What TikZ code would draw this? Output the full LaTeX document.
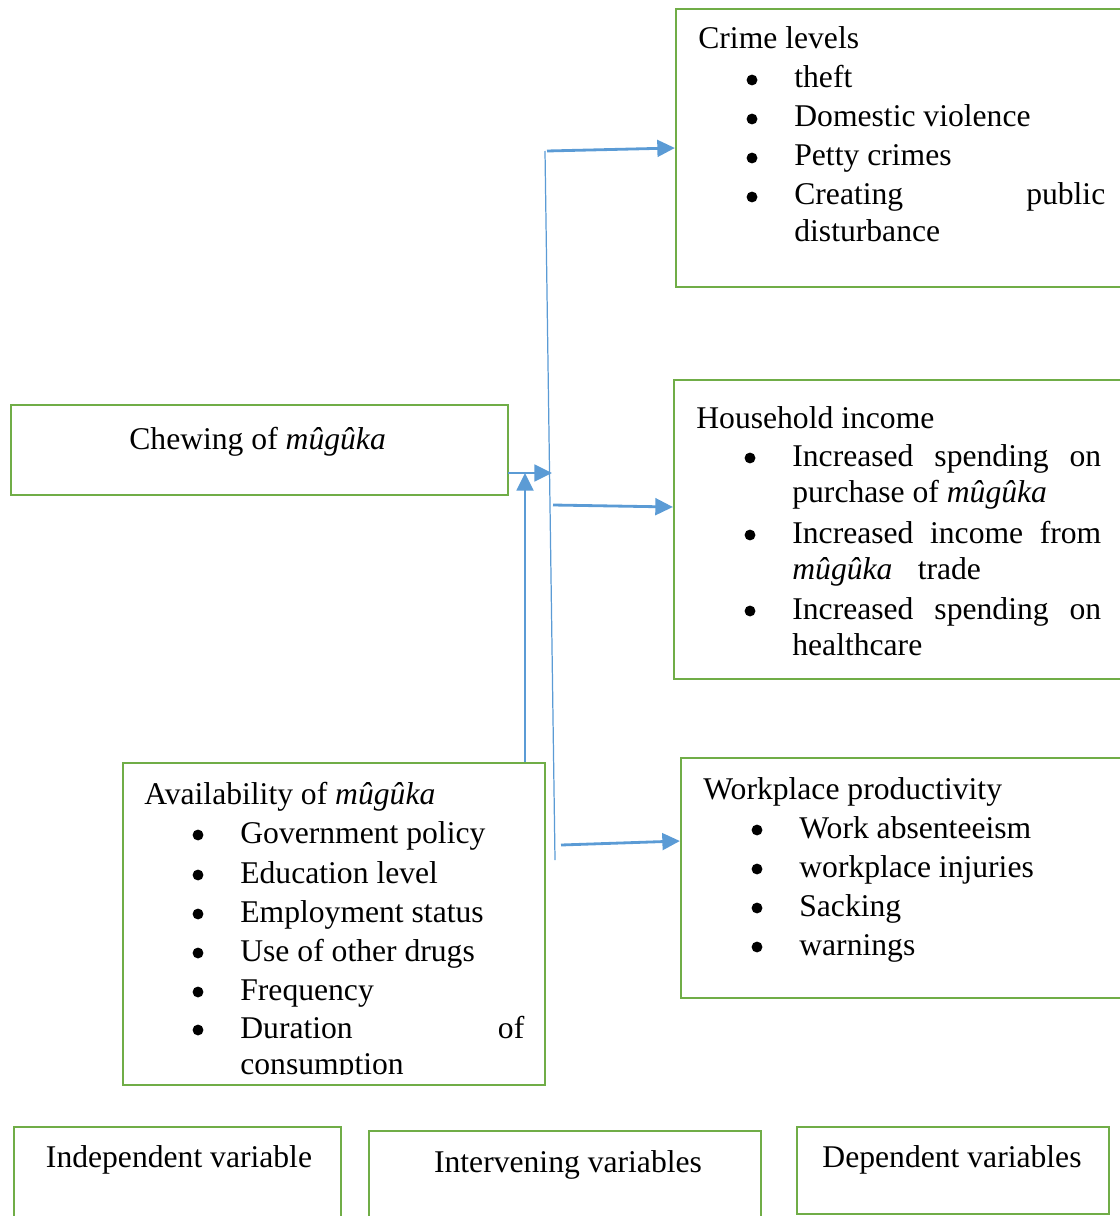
\documentclass[tikz,border=0pt]{standalone}
\usepackage{fontspec}
\setmainfont{Liberation Serif}
\usetikzlibrary{arrows.meta}
\definecolor{boxgreen}{RGB}{112,173,71}
\definecolor{arrowblue}{RGB}{91,155,213}
\hyphenpenalty=10000
\exhyphenpenalty=10000
\tolerance=9999

\begin{document}
\begin{tikzpicture}[x=0.02cm, y=-0.02cm,
  every node/.style={font=\fontsize{18}{21}\selectfont, inner sep=0pt},
  box/.style={draw=boxgreen, line width=1.3pt},
  txt/.style={anchor=base west},
  lbl/.style={anchor=base},
  dot/.style={circle, fill=black, minimum size=6.2pt, yshift=0.16cm},
  item/.style={anchor=base west, text width=#1, align=justify},
  arr/.style={draw=arrowblue, line width=1.6pt, -{Triangle[length=10pt,width=9.5pt]}},
  thin/.style={draw=arrowblue, line width=0.7pt}]

\useasboundingbox (0,0) rectangle (1119,1216);

\node[box, minimum width=9.28cm, minimum height=5.56cm] (crime) at (908,148) {};
\node[box, minimum width=9.32cm, minimum height=5.98cm] (house) at (907,529.5) {};
\node[box, minimum width=9.18cm, minimum height=4.8cm] (work) at (910.5,878) {};
\node[box, minimum width=9.94cm, minimum height=1.8cm] (chew) at (259.5,450) {};
\node[box, minimum width=8.44cm, minimum height=6.44cm] (avail) at (334,924) {};
\node[box, minimum width=6.54cm, minimum height=2.26cm] (indep) at (177.5,1183.5) {};
\node[box, minimum width=7.84cm, minimum height=2.18cm] (interv) at (565,1185.5) {};
\node[box, minimum width=6.24cm, minimum height=1.74cm] (dep) at (953,1170.5) {};

% crime levels
\node[txt] (crimeT) at (698,49) {Crime levels};
\node[dot] (crb1) at (752,88) {};
\node[dot] (crb2) at (752,127) {};
\node[dot] (crb3) at (752,166) {};
\node[dot] (crb4) at (752,205) {};
\node[item=6.22cm] (cr1) at (794,88) {theft};
\node[item=6.22cm] (cr2) at (794,127) {Domestic violence};
\node[item=6.22cm] (cr3) at (794,166) {Petty crimes};
\node[item=6.22cm] (cr4) at (794,205) {Creating public disturbance};

% household income
\node[txt] (houseT) at (696,428) {Household income};
\node[dot] (hob1) at (750,466) {};
\node[dot] (hob2) at (750,543) {};
\node[dot] (hob3) at (750,619) {};
\node[item=6.18cm] (ho1) at (792,466) {Increased spending on purchase of \textit{mûgûka}};
\node[item=6.18cm] (ho2) at (792,543) {Increased income from \textit{mûgûka}\hspace{0.8em}trade};
\node[item=6.18cm] (ho3) at (792,619) {Increased spending on healthcare};

% workplace productivity
\node[txt] (workT) at (703,799) {Workplace productivity};
\node[dot] (wob1) at (757,838) {};
\node[dot] (wob2) at (757,877) {};
\node[dot] (wob3) at (757,916) {};
\node[dot] (wob4) at (757,955) {};
\node[txt] (wo1) at (799,838) {Work absenteeism};
\node[txt] (wo2) at (799,877) {workplace injuries};
\node[txt] (wo3) at (799,916) {Sacking};
\node[txt] (wo4) at (799,955) {warnings};

% chewing
\node[txt] (chewT) at (129,449) {Chewing of \textit{mûgûka}};

% availability
\node[txt] (availT) at (144,804) {Availability of \textit{mûgûka}};
\node[dot] (avb1) at (198,843) {};
\node[dot] (avb2) at (198,883) {};
\node[dot] (avb3) at (198,922) {};
\node[dot] (avb4) at (198,961) {};
\node[dot] (avb5) at (198,1000) {};
\node[dot] (avb6) at (198,1038) {};
\node[txt] (av1) at (240,843) {Government policy};
\node[txt] (av2) at (240,883) {Education level};
\node[txt] (av3) at (240,922) {Employment status};
\node[txt] (av4) at (240,961) {Use of other drugs};
\node[txt] (av5) at (240,1000) {Frequency};
\begin{scope}
\clip (123,763) rectangle (545,1074);
\node[item=5.68cm] (av6) at (240,1038) {Duration of consumption};
\end{scope}

% legend
\node[lbl] (indepT) at (179,1167) {Independent variable};
\node[lbl] (intervT) at (568,1172) {Intervening variables};
\node[lbl] (depT) at (952,1167) {Dependent variables};

% connectors
\coordinate (ltop) at (545,151);
\coordinate (lbot) at (555,860);
\coordinate (c1) at (547,151);
\coordinate (h1) at (553,505);
\coordinate (w1) at (561,845);
\coordinate (ch) at (508,473);
\coordinate (chtip) at (552,473);
\coordinate (up) at (525,473);

\draw[thin] (ltop) to (lbot);
\draw[arr] (c1) to (crime.west);
\draw[arr] (h1) to ([yshift=-0.04cm]h1 -| house.west);
\draw[arr] (w1) to ([yshift=0.08cm]w1 -| work.west);
\draw[arr] (ch) to (chtip);
\draw[arr] (avail.north -| up) to (up);

\end{tikzpicture}
\end{document}
